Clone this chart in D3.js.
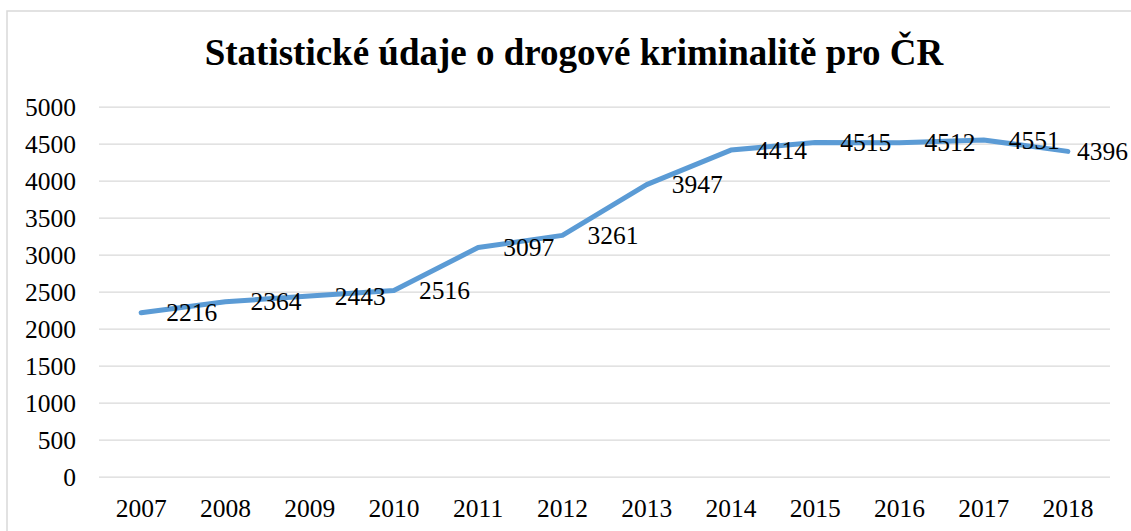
<!DOCTYPE html>
<html>
<head>
<meta charset="utf-8">
<script src="https://cdn.jsdelivr.net/npm/d3@7"></script>
<style>
  body { margin: 0; background: #ffffff; }
  svg { display: block; }
  text { font-family: "Liberation Serif", "Times New Roman", serif; fill: #000000; }
</style>
</head>
<body>
<div id="chart"></div>
<script>
// DATA
let years = ["2007", "2008", "2009", "2010", "2011", "2012", "2013", "2014", "2015", "2016", "2017", "2018"];
let cases = [2216, 2364, 2443, 2516, 3097, 3261, 3947, 4414, 4515, 4512, 4551, 4396];
let y_ticks = [0, 500, 1000, 1500, 2000, 2500, 3000, 3500, 4000, 4500, 5000];
let chart_title = "Statistické údaje o drogové kriminalitě pro ČR";

let width = 1131;
let height = 531;
let margin = { top: 106.7, right: 21, bottom: 54.3, left: 99 };
let serif = '"Liberation Serif", "Times New Roman", serif';

let svg = d3
  .select("#chart")
  .append("svg")
  .attr("width", width)
  .attr("height", height);

// chart area border (runs off the right / bottom edge like in the screenshot)
svg
  .append("rect")
  .attr("x", 7)
  .attr("y", 11)
  .attr("width", width + 10)
  .attr("height", height + 10)
  .attr("fill", "none")
  .attr("stroke", "#d9d9d9")
  .attr("stroke-width", 1.5);

// scales
let x = d3
  .scaleBand()
  .domain(years)
  .range([margin.left, width - margin.right]);

let y = d3
  .scaleLinear()
  .domain([0, 5000])
  .range([height - margin.bottom, margin.top]);

// title
svg
  .append("text")
  .attr("x", 574)
  .attr("y", 65)
  .attr("text-anchor", "middle")
  .style("font-family", serif)
  .style("font-weight", "bold")
  .style("font-size", "37px")
  .text(chart_title);

// horizontal gridlines + y labels
let y_axis = svg
  .append("g")
  .attr("transform", "translate(" + margin.left + ",0)")
  .call(
    d3
      .axisLeft(y)
      .tickValues(y_ticks)
      .tickFormat(d3.format("d"))
      .tickSize(-(width - margin.left - margin.right))
      .tickPadding(23)
  );

y_axis.select(".domain").remove();
y_axis
  .selectAll(".tick line")
  .attr("stroke", "#d9d9d9")
  .attr("stroke-width", 1.3);
y_axis
  .selectAll(".tick text")
  .style("font-family", serif)
  .style("font-size", "25.5px")
  .attr("fill", "#000000")
  .attr("dy", ".34em");

// x labels
let x_axis = svg
  .append("g")
  .attr("transform", "translate(0," + (height - margin.bottom) + ")")
  .call(d3.axisBottom(x).tickSize(0).tickPadding(22));

x_axis.select(".domain").remove();
x_axis
  .selectAll(".tick text")
  .style("font-family", serif)
  .style("font-size", "25.5px")
  .attr("fill", "#000000")
  .attr("dy", ".71em");

// the line
let line = d3
  .line()
  .x((d, i) => x(years[i]) + x.bandwidth() / 2)
  .y((d) => y(d));

svg
  .append("path")
  .datum(cases)
  .attr("fill", "none")
  .attr("stroke", "#5b9bd5")
  .attr("stroke-width", 5)
  .attr("stroke-linejoin", "round")
  .attr("stroke-linecap", "round")
  .attr("d", line);

// data labels, right of each point (pushed back inside at the right edge)
let value_labels = svg
  .selectAll(".value-label")
  .data(cases)
  .enter()
  .append("text")
  .attr("class", "value-label")
  .attr("y", (d) => y(d))
  .attr("dy", ".34em")
  .style("font-family", serif)
  .style("font-size", "25.5px")
  .text((d) => d);

value_labels.attr("x", function (d, i) {
  let wanted = x(years[i]) + x.bandwidth() / 2 + 25;
  let w = this.getComputedTextLength();
  return Math.min(wanted, width - 3 - w);
});
</script>
</body>
</html>
